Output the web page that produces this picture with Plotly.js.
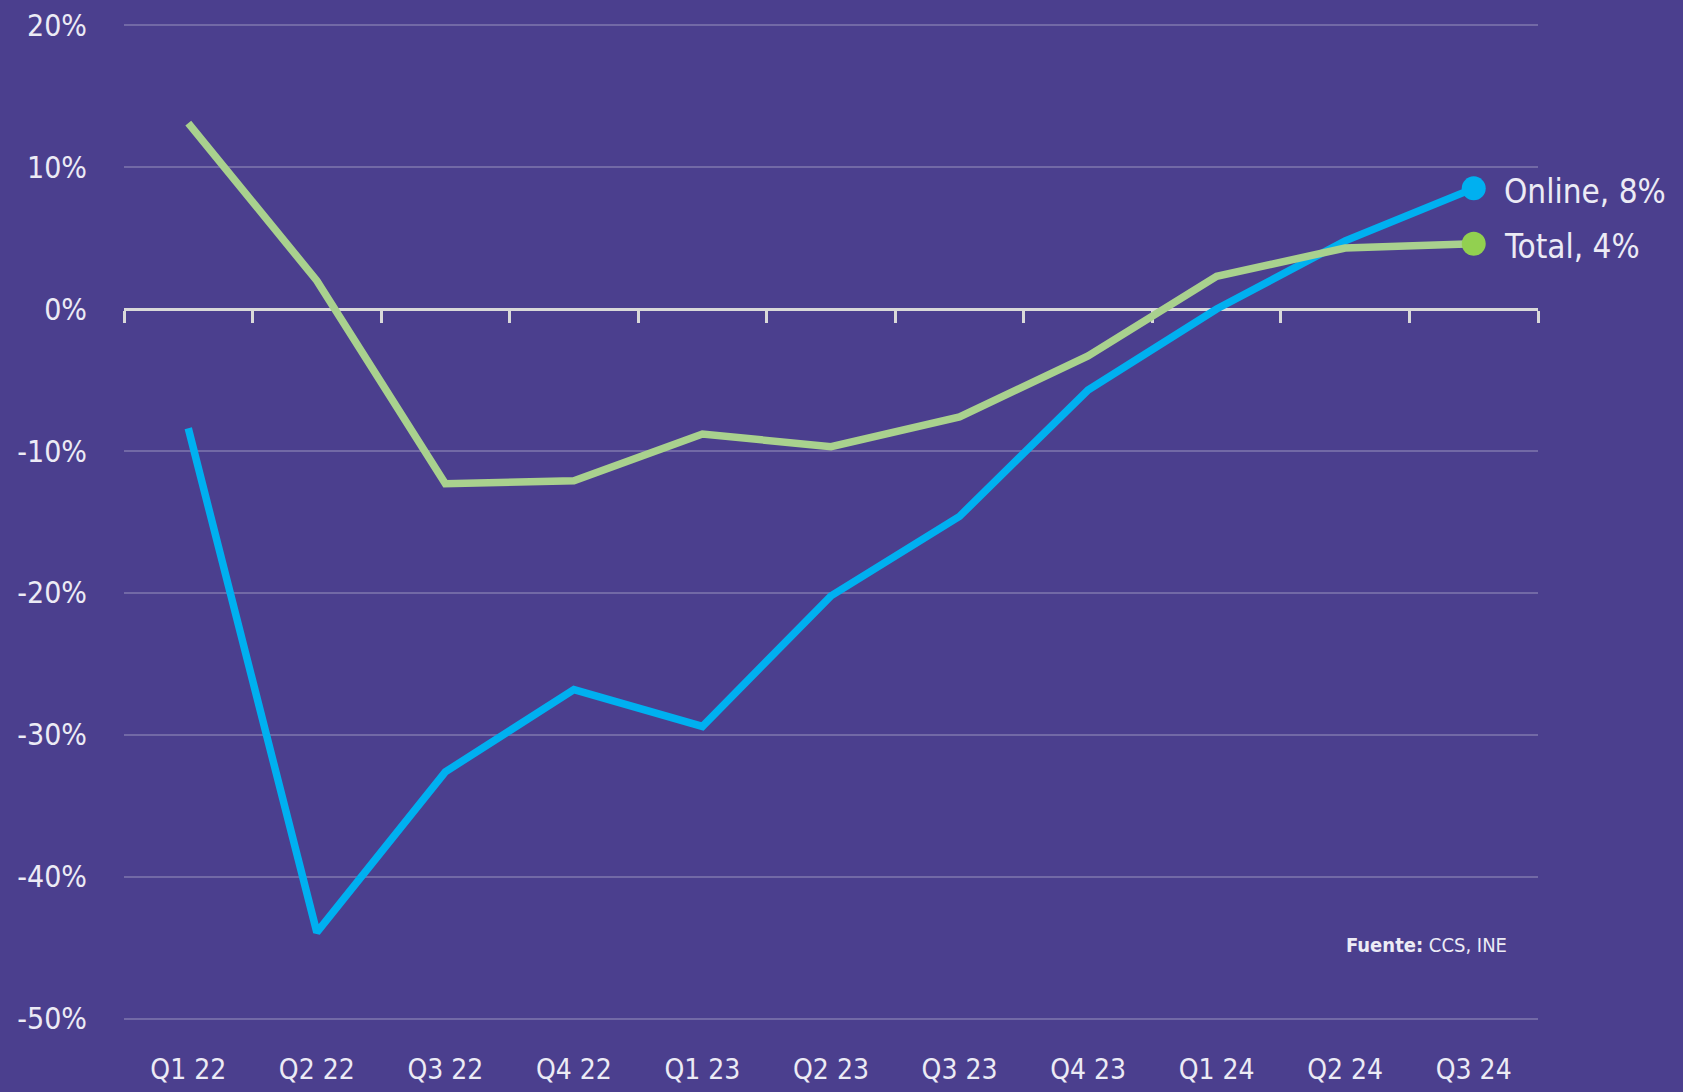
<!DOCTYPE html>
<html>
<head>
<meta charset="utf-8">
<script src="https://cdn.plot.ly/plotly-3.0.1.min.js"></script>
<style>
html,body{margin:0;padding:0;background:#4B3F8E;}
#chart{width:1683px;height:1092px;}
</style>
</head>
<body>
<div id="chart"></div>
<script>
const quarters = ["Q1 22","Q2 22","Q3 22","Q4 22","Q1 23","Q2 23","Q3 23","Q4 23","Q1 24","Q2 24","Q3 24"];
const online = [-8.4,-43.9,-32.6,-26.8,-29.4,-20.2,-14.6,-5.7,0.0,4.8,8.5];
const total = [13.1,2.0,-12.3,-12.1,-8.8,-9.7,-7.6,-3.3,2.3,4.3,4.6];
const yTicks = [-50,-40,-30,-20,-10,0,10,20];
const seriesNames = ["Online","Total"];
const labelValues = [8, 4];
const source = "<b>Fuente:</b> CCS, INE";

const FONT = '"Liberation Sans Narrow", "Arial Narrow", "DejaVu Sans Condensed", sans-serif';
const TXT = '#ECEBF5';
const yMin = -50.5, yMax = 20.5;

function endMarkers(arr, size){ return arr.map((v,i)=> i===arr.length-1 ? size : 0); }

const traces = [
  {x: quarters, y: total, name: seriesNames[1], xaxis:'x2', yaxis:'y', mode:'lines+markers',
   line:{color:'#A9D18E', width:7.5}, marker:{color:'#92D050', opacity:1, size:endMarkers(total,24), line:{width:0}},
   hoverinfo:'skip'},
  {x: quarters, y: online, name: seriesNames[0], xaxis:'x', yaxis:'y', mode:'lines+markers',
   line:{color:'#00B0F0', width:7.5}, marker:{color:'#00B0F0', opacity:1, size:endMarkers(online,24), line:{width:0}},
   hoverinfo:'skip'}
];

const last = quarters[quarters.length-1];
const annotations = [
  {x:last, y:online[online.length-1], xref:'x', yref:'y', text: seriesNames[0]+', '+labelValues[0]+'%',
   showarrow:false, xanchor:'left', yanchor:'middle', xshift:28, yshift:-3, font:{family:FONT, size:33, color:TXT}},
  {x:last, y:total[total.length-1], xref:'x', yref:'y', text: seriesNames[1]+', '+labelValues[1]+'%',
   showarrow:false, xanchor:'left', yanchor:'middle', xshift:28, yshift:-3, font:{family:FONT, size:33, color:TXT}},
  {x:0.863, y:0.08, xref:'paper', yref:'paper', text: source, showarrow:false, xanchor:'left', yanchor:'middle',
   font:{family:FONT, size:20, color:TXT}}
];

const layout = {
  width:1683, height:1092,
  paper_bgcolor:'#4B3F8E', plot_bgcolor:'#4B3F8E',
  margin:{l:124, r:145, t:18, b:66},
  showlegend:false,
  font:{family:FONT, color:TXT},
  xaxis:{type:'category', range:[-0.5, quarters.length-0.5], showgrid:false, zeroline:false, showline:false,
         ticks:'', tickfont:{family:FONT, size:28, color:TXT}, ticklabelstandoff:24, fixedrange:true},
  xaxis2:{type:'category', overlaying:'x', anchor:'free', position:(0-yMin)/(yMax-yMin), side:'bottom',
          range:[-0.5, quarters.length-0.5], showgrid:false, zeroline:false, showline:true, linecolor:'#D9D9D9', linewidth:3,
          ticks:'outside', tickson:'boundaries', ticklen:12, tickwidth:3, tickcolor:'#D9D9D9',
          showticklabels:false, layer:'below traces'},
  yaxis:{range:[yMin, yMax], tickvals:yTicks, ticktext:yTicks.map(v=>v+'%'), showgrid:true,
         gridcolor:'rgba(255,255,255,0.22)', gridwidth:1.5, zeroline:false, showline:false, ticks:'',
         tickfont:{family:FONT, size:30, color:TXT}, ticklabelstandoff:36},
  annotations: annotations
};

Plotly.newPlot('chart', traces, layout, {staticPlot:true, displayModeBar:false});
</script>
</body>
</html>
